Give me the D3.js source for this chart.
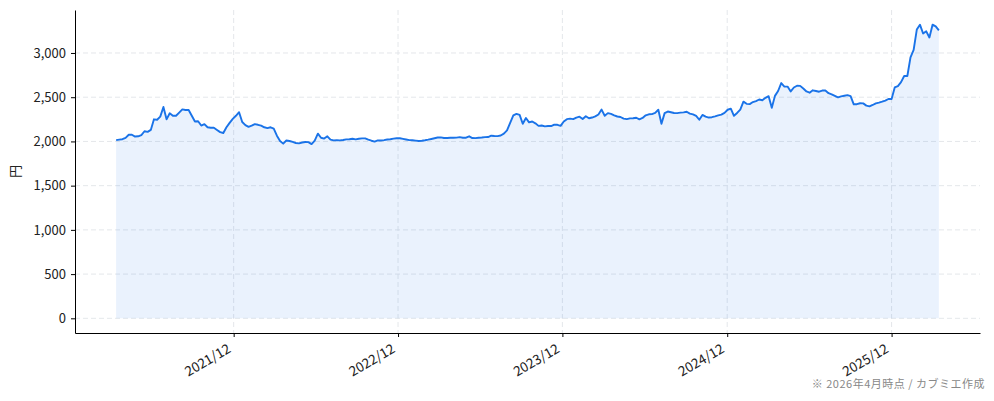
<!DOCTYPE html>
<html>
<head>
<meta charset="utf-8">
<script src="https://cdn.jsdelivr.net/npm/d3@7.9.0/dist/d3.min.js"></script>
<style>
  body { margin: 0; background: #fff; }
  svg text { font-family: "Noto Sans CJK JP", "Noto Sans", sans-serif; }
</style>
</head>
<body>
<svg id="chart" width="994" height="401"></svg>
<script>
// weekly closing prices (円), first week = 2021-03-15
const startDate = '2021-03-15';
const prices = [
  2015, 2020, 2025, 2040, 2075, 2075, 2055, 2058, 2072, 2115,
  2108, 2130, 2250, 2245, 2280, 2390, 2250, 2318, 2290, 2290,
  2326, 2362, 2356, 2356, 2290, 2225, 2228, 2180, 2195, 2160,
  2155, 2155, 2130, 2105, 2095, 2160, 2210, 2255, 2290, 2330,
  2220, 2185, 2165, 2178, 2195, 2188, 2178, 2160, 2150, 2160,
  2145, 2065, 2005, 1975, 2010, 2005, 1994, 1982, 1978, 1988,
  1993, 1992, 1970, 2010, 2088, 2042, 2032, 2058, 2020, 2012,
  2014, 2012, 2016, 2023, 2024, 2030, 2023, 2030, 2034, 2034,
  2020, 2008, 1998, 2011, 2011, 2015, 2022, 2025, 2032, 2036,
  2036, 2029, 2022, 2015, 2013, 2009, 2005, 2007, 2013, 2020,
  2028, 2036, 2044, 2046, 2039, 2038, 2042, 2042, 2043, 2048,
  2042, 2042, 2058, 2038, 2037, 2042, 2044, 2049, 2050, 2065,
  2062, 2060, 2067, 2088, 2125, 2210, 2295, 2312, 2300, 2200,
  2265, 2215, 2225, 2205, 2176, 2180, 2170, 2174, 2174, 2190,
  2188, 2176, 2225, 2252, 2258, 2252, 2270, 2280, 2253, 2285,
  2262, 2270, 2283, 2305, 2360, 2290, 2320, 2312, 2295, 2282,
  2276, 2258, 2252, 2261, 2262, 2268, 2250, 2265, 2295, 2307,
  2309, 2322, 2358, 2200, 2320, 2338, 2330, 2322, 2320, 2326,
  2328, 2335, 2314, 2306, 2288, 2245, 2300, 2280, 2270, 2274,
  2284, 2295, 2303, 2322, 2358, 2370, 2290, 2322, 2360, 2450,
  2425, 2422, 2445, 2456, 2474, 2466, 2493, 2512, 2380, 2515,
  2570, 2660, 2620, 2620, 2565, 2610, 2630, 2628, 2598, 2565,
  2551, 2578, 2570, 2562, 2575, 2575, 2545, 2532, 2515, 2498,
  2510, 2517, 2523, 2512, 2420, 2421, 2432, 2430, 2405, 2396,
  2412, 2430, 2438, 2449, 2462, 2480, 2480, 2610, 2625, 2670,
  2740, 2740, 2950, 3035, 3265, 3320, 3220, 3245, 3175, 3320,
  3300, 3255
];
const yTicks = [0, 500, 1000, 1500, 2000, 2500, 3000];
const xTickDates = ['2021-12-01', '2022-12-01', '2023-12-01', '2024-12-01', '2025-12-01'];
const xTickLabels = ['2021/12', '2022/12', '2023/12', '2024/12', '2025/12'];
const yLabel = '円';
const note = '※ 2026年4月時点 / カブミエ作成';

const parse = d3.timeParse('%Y-%m-%d');
const t0 = parse(startDate);
const data = prices.map((v, i) => ({ date: d3.timeWeek.offset(t0, i), value: v }));

const margin = { left: 75, right: 14, top: 10, bottom: 68 };
const W = 994, H = 401;
const svg = d3.select('#chart');

const ext = d3.extent(data, d => d.date);
const span = ext[1] - ext[0];
const x = d3.scaleTime()
  .domain([new Date(+ext[0] - span * 0.05), new Date(+ext[1] + span * 0.05)])
  .range([margin.left, W - margin.right]);

const yMax = d3.max(data, d => d.value);
const y = d3.scaleLinear()
  .domain([-0.05 * yMax, 1.05 * yMax])
  .range([H - margin.bottom, margin.top]);

const tickDates = xTickDates.map(parse);

// grid
const grid = svg.append('g');
grid.selectAll('.hg').data(yTicks).enter().append('line')
  .attr('x1', margin.left).attr('x2', W - margin.right)
  .attr('y1', d => y(d)).attr('y2', d => y(d))
  .attr('stroke', '#e1e4e8').attr('stroke-dasharray', '5,3').attr('stroke-width', 0.9);
grid.selectAll('.vg').data(tickDates).enter().append('line')
  .attr('x1', d => x(d)).attr('x2', d => x(d))
  .attr('y1', margin.top).attr('y2', H - margin.bottom)
  .attr('stroke', '#e1e4e8').attr('stroke-dasharray', '5,3').attr('stroke-width', 0.9);

// area + line
svg.append('path').datum(data)
  .attr('fill', '#1a73e8').attr('fill-opacity', 0.09)
  .attr('d', d3.area().x(d => x(d.date)).y0(y(0)).y1(d => y(d.value)));
svg.append('path').datum(data)
  .attr('fill', 'none').attr('stroke', '#1a73e8').attr('stroke-width', 1.9)
  .attr('stroke-linejoin', 'round')
  .attr('d', d3.line().x(d => x(d.date)).y(d => y(d.value)));

// y axis
const yAxis = svg.append('g')
  .attr('transform', `translate(${margin.left},0)`)
  .call(d3.axisLeft(y).tickValues(yTicks).tickSize(4).tickSizeOuter(0).tickPadding(5).tickFormat(d3.format(',')));
yAxis.select('.domain').attr('stroke', '#000');
yAxis.selectAll('text').attr('font-size', 13).attr('fill', '#222');

// x axis
const xAxis = svg.append('g')
  .attr('transform', `translate(0,${H - margin.bottom})`)
  .call(d3.axisBottom(x).tickValues(tickDates).tickSize(4).tickSizeOuter(0).tickFormat((d, i) => xTickLabels[i]));
xAxis.select('.domain').attr('stroke', '#000');
xAxis.selectAll('text')
  .attr('font-size', 13.5).attr('fill', '#222')
  .attr('text-anchor', 'end')
  .attr('dy', null).attr('y', null)
  .attr('transform', 'translate(-2.5,18.5) rotate(-30)');

// labels
svg.append('text')
  .attr('transform', `translate(20,${(margin.top + H - margin.bottom) / 2}) rotate(-90)`)
  .attr('text-anchor', 'middle')
  .attr('font-size', 13).attr('fill', '#222')
  .text(yLabel);
svg.append('text')
  .attr('x', 985).attr('y', 388)
  .attr('text-anchor', 'end')
  .attr('font-size', 11).attr('letter-spacing', 0.5).attr('fill', '#888')
  .text(note);
</script>
</body>
</html>
